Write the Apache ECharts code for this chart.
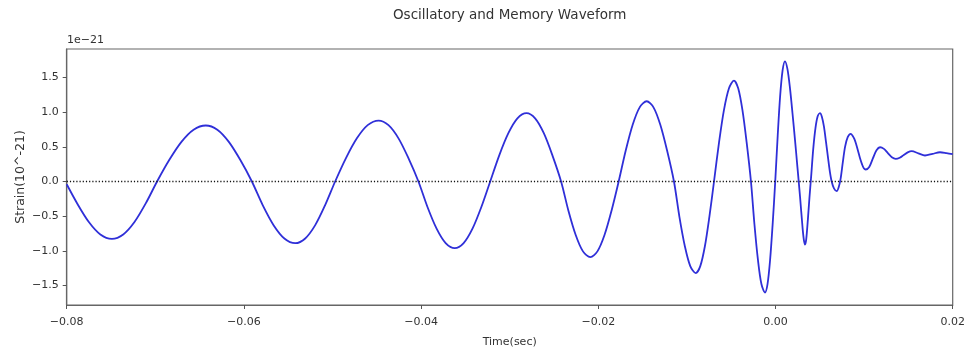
<!DOCTYPE html>
<html>
<head>
<meta charset="utf-8">
<title>Oscillatory and Memory Waveform</title>
<script src="https://cdn.jsdelivr.net/npm/echarts@6/dist/echarts.min.js"></script>
<style>
  html, body { margin: 0; padding: 0; background: #fff; }
  #chart { width: 976px; height: 354px; }
</style>
</head>
<body>
<div id="chart"></div>
<script>
// Time samples (s)
const timeSec = [
  -0.0800, -0.0788, -0.0775, -0.0762, -0.0749, -0.07362, -0.07235, -0.07108, -0.0698,
  -0.06843, -0.06705, -0.06568, -0.0643, -0.0630, -0.0617, -0.0604, -0.0591,
  -0.05788, -0.05665, -0.05543, -0.0542, -0.05308, -0.05195, -0.05083, -0.0497,
  -0.04848, -0.04725, -0.04603, -0.0448, -0.04368, -0.04255, -0.04143, -0.0403,
  -0.03928, -0.03825, -0.03723, -0.0362, -0.0352, -0.0342, -0.0332, -0.0322,
  -0.03118, -0.03015, -0.02913, -0.0281, -0.02713, -0.02615, -0.02518, -0.0242,
  -0.02338, -0.02255, -0.02173, -0.0209, -0.0201, -0.0193, -0.0185, -0.0177,
  -0.01691, -0.01612, -0.01533, -0.01454, -0.01377, -0.0130, -0.01223, -0.01146,
  -0.01085, -0.01023, -0.00962, -0.0090, -0.00849, -0.00797, -0.00746, -0.00694,
  -0.00638, -0.00582, -0.00525, -0.00469, -0.00421, -0.00373, -0.00325, -0.00277,
  -0.00238, -0.00198, -0.00159, -0.00119, -0.0009, -0.00061, -0.00032, -0.00003,
  0.00025, 0.00052, 0.0008, 0.00107, 0.00135, 0.00164, 0.00192, 0.00220, 0.00248,
  0.00277, 0.00305, 0.00320, 0.00333, 0.00347, 0.00367, 0.00384, 0.00401,
  0.00426, 0.00451, 0.00476, 0.00502, 0.00524, 0.00547, 0.00570, 0.00593, 0.00614,
  0.00634, 0.00660, 0.00691, 0.00714, 0.00736, 0.00760, 0.00785, 0.00815, 0.00849,
  0.00870, 0.00891, 0.00912, 0.00934, 0.00955, 0.00976, 0.00997, 0.01018,
  0.01058, 0.01099, 0.01140, 0.01180, 0.01224, 0.01268, 0.01313, 0.01357,
  0.01402, 0.01447, 0.01492, 0.01537, 0.01612, 0.01687, 0.01772, 0.01857,
  0.01930, 0.02000
];
// Strain (units of 1e-21)
const strain = [
  -0.04, -0.32, -0.584, -0.763, -0.826, -0.763, -0.584, -0.316, 0.0,
  0.309, 0.571, 0.746, 0.807, 0.746, 0.571, 0.309, 0.0,
  -0.340, -0.629, -0.821, -0.889, -0.821, -0.629, -0.340, 0.0,
  0.337, 0.622, 0.812, 0.879, 0.812, 0.622, 0.337, 0.0,
  -0.368, -0.680, -0.888, -0.961, -0.888, -0.680, -0.368, 0.0,
  0.377, 0.696, 0.910, 0.985, 0.910, 0.696, 0.377, 0.0,
  -0.417, -0.771, -1.007, -1.09, -1.007, -0.771, -0.417, 0.0,
  0.443, 0.818, 1.069, 1.157, 1.069, 0.818, 0.443, 0.0,
  -0.505, -0.933, -1.220, -1.32, -1.220, -0.933, -0.505, 0.0,
  0.557, 1.029, 1.344, 1.455, 1.344, 1.029, 0.557, 0.0,
  -0.612, -1.131, -1.478, -1.60, -1.478, -1.131, -0.612, 0.0,
  0.663, 1.225, 1.601, 1.733, 1.62, 1.34, 0.98, 0.60, 0.20,
  -0.22, -0.66, -0.84, -0.908, -0.83, -0.52, -0.22, 0.05,
  0.47, 0.77, 0.94, 0.985, 0.93, 0.79, 0.57, 0.34, 0.14,
  0.0, -0.10, -0.14, -0.08, 0.05, 0.28, 0.50, 0.64, 0.687,
  0.66, 0.61, 0.53, 0.43, 0.33, 0.25, 0.19, 0.173,
  0.21, 0.334, 0.45, 0.494, 0.47, 0.41, 0.35, 0.327,
  0.343, 0.382, 0.42, 0.437, 0.406, 0.375, 0.398, 0.422,
  0.41, 0.395
];
const xTicks = [-0.08, -0.06, -0.04, -0.02, 0.00, 0.02];
const yTicks = [-1.5, -1.0, -0.5, 0.0, 0.5, 1.0, 1.5];

const fmtNum = (v, d) => {
  const s = Math.abs(v).toFixed(d);
  return (v < -1e-9 ? '\u2212' : '') + s;
};

const chart = echarts.init(document.getElementById('chart'), null, { renderer: 'canvas' });
const pts = timeSec.map((t, i) => [t, strain[i]]);
const FONT = 'DejaVu Sans';
const TXT = '#333';
const FRAME = '#666';

chart.setOption({
  animation: false,
  backgroundColor: '#fff',
  grid: {
    left: 66.7, right: 23.3, top: 49, bottom: 49,
    show: true, borderColor: FRAME, borderWidth: 1.2, backgroundColor: 'transparent'
  },
  graphic: [
    {
      type: 'text', x: 509.7, y: 15,
      style: {
        text: 'Oscillatory and Memory Waveform',
        fill: TXT, font: '13.5px "DejaVu Sans"', align: 'center', verticalAlign: 'middle'
      }
    },
    {
      type: 'text', x: 67, y: 40,
      style: { text: '1e\u221221', fill: TXT, font: '11px "DejaVu Sans"', verticalAlign: 'middle' }
    }
  ],
  xAxis: {
    type: 'value', min: -0.08, max: 0.02,
    name: 'Time(sec)', nameLocation: 'middle', nameGap: 32, nameMoveOverlap: false,
    nameTextStyle: { fontFamily: FONT, fontSize: 11, color: TXT },
    axisLine: { show: true, onZero: false, lineStyle: { color: FRAME, width: 1.2 } },
    splitLine: { show: false },
    axisTick: { show: true, length: 4, customValues: xTicks, lineStyle: { color: '#555' } },
    axisLabel: {
      customValues: xTicks, margin: 12, fontFamily: FONT, fontSize: 11, color: TXT,
      formatter: v => fmtNum(v, 2), showMinLabel: true, showMaxLabel: true
    }
  },
  yAxis: {
    type: 'value', min: -1.78, max: 1.91,
    name: 'Strain(10^-21)', nameLocation: 'middle', nameGap: 39, nameRotate: 90,
    nameMoveOverlap: false,
    nameTextStyle: { fontFamily: FONT, fontSize: 12.5, color: TXT },
    axisLine: { show: true, onZero: false, lineStyle: { color: FRAME, width: 1.2 } },
    splitLine: { show: false },
    axisTick: { show: true, length: 4, customValues: yTicks, lineStyle: { color: '#555' } },
    axisLabel: {
      customValues: yTicks, margin: 8, fontFamily: FONT, fontSize: 11, color: TXT,
      formatter: v => fmtNum(v, 1)
    }
  },
  series: [{
    type: 'line',
    data: pts,
    smooth: 0.3,
    showSymbol: false,
    lineStyle: { color: '#2f2fd8', width: 1.8 },
    markLine: {
      silent: true, symbol: 'none', label: { show: false },
      lineStyle: { color: '#111', type: [1.2, 2], width: 1.3 },
      data: [{ yAxis: 0 }]
    }
  }]
});
</script>
</body>
</html>
